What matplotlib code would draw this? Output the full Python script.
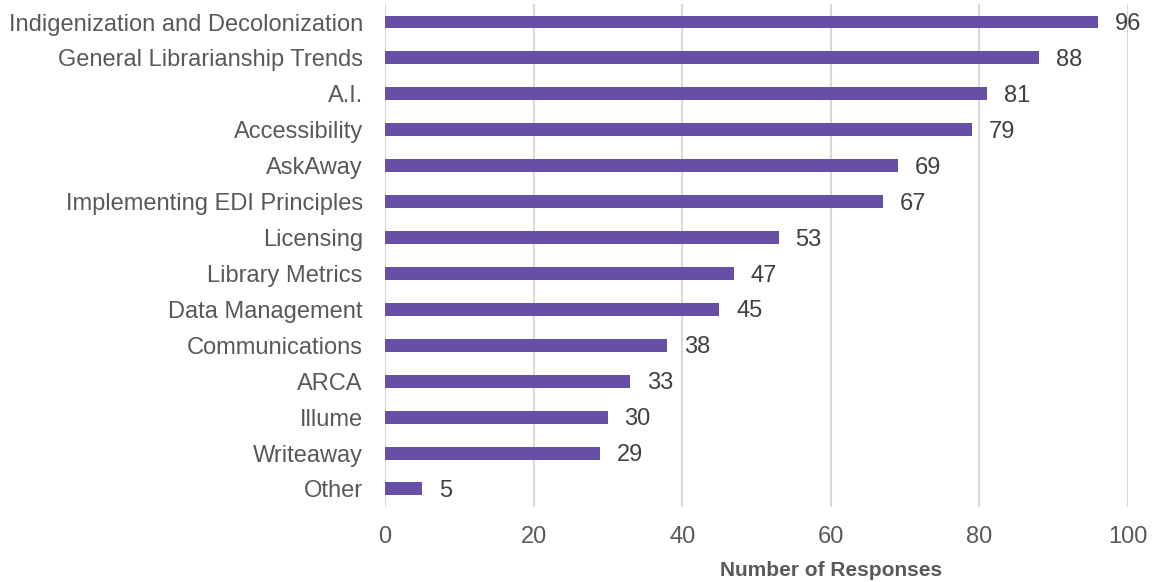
import matplotlib
matplotlib.use("Agg")
import matplotlib.pyplot as plt

categories = [
    "Indigenization and Decolonization",
    "General Librarianship Trends",
    "A.I.",
    "Accessibility",
    "AskAway",
    "Implementing EDI Principles",
    "Licensing",
    "Library Metrics",
    "Data Management",
    "Communications",
    "ARCA",
    "Illume",
    "Writeaway",
    "Other",
]
responses = [96, 88, 81, 79, 69, 67, 53, 47, 45, 38, 33, 30, 29, 5]
xticks = [0, 20, 40, 60, 80, 100]

plt.rcParams["font.family"] = ["Liberation Sans", "DejaVu Sans"]

fig = plt.figure(figsize=(11.54, 5.82), dpi=100)
ax = fig.add_axes([0.3336, 0.129, 0.6439, 0.864])

bar_color = "#674EA7"
value_color = "#404040"
label_color = "#595959"

y = list(range(len(categories)))
ax.barh(y, responses, height=0.36, color=bar_color, zorder=3)
for yi, v in zip(y, responses):
    ax.annotate(str(v), (v, yi), xytext=(12, -1.5), textcoords="offset points",
                va="center", ha="left", fontsize=17, color=value_color)

ax.set_ylim(len(categories) - 0.5, -0.5)
ax.set_xlim(0, 100)
ax.set_yticks(y)
ax.set_yticklabels(categories, fontsize=17, color=label_color)
ax.set_xticks(xticks)
ax.set_xticklabels([str(t) for t in xticks], fontsize=17, color=label_color)
ax.tick_params(axis="both", length=0)
ax.tick_params(axis="y", pad=16)
ax.tick_params(axis="x", pad=14)

ax.grid(axis="x", color="#D9D9D9", linewidth=1.5, zorder=0)
for s in ax.spines.values():
    s.set_visible(False)

fig.text(831 / 1154, 1 - 570 / 582, "Number of Responses", ha="center", va="center",
         fontsize=15, fontweight="bold", color=label_color)

fig.savefig("out.png", dpi=100)
